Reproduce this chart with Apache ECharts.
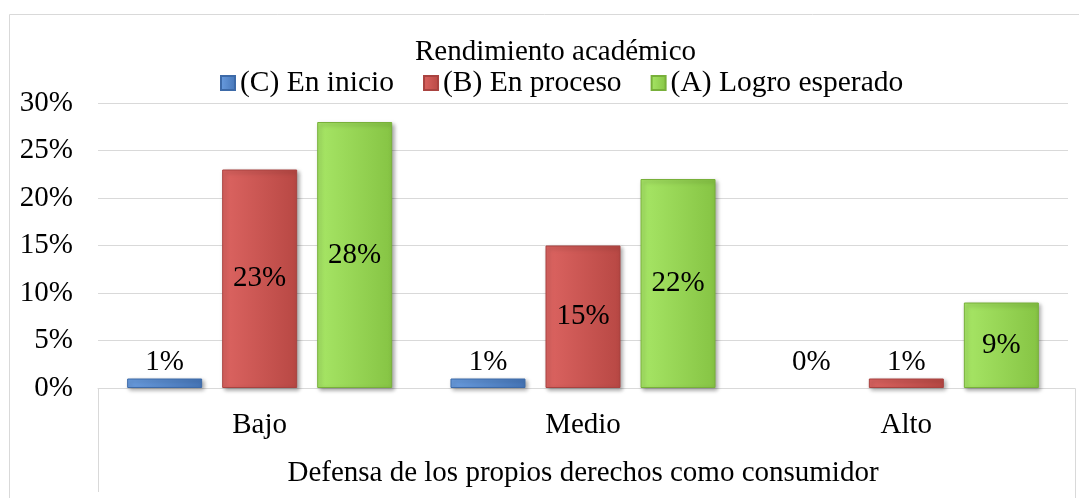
<!DOCTYPE html>
<html>
<head>
<meta charset="utf-8">
<script src="https://cdn.jsdelivr.net/npm/echarts@6/dist/echarts.min.js"></script>
<style>
    html, body { margin: 0; padding: 0; background: #fff; }
    #grafico { width: 1079px; height: 498px; }
</style>
</head>
<body>
<div id="grafico"></div>
<script>
const categorias = ['Bajo', 'Medio', 'Alto']
const enInicio = [1, 1, 0]
const enProceso = [23, 15, 1]
const logroEsperado = [28, 22, 9]
const ticks = [0, 5, 10, 15, 20, 25, 30]

const fonte = 'Liberation Serif'
const tam = 29

const degrade = (claro, escuro) => ({
    type: 'linear', x: 0, y: 0, x2: 1, y2: 0,
    colorStops: [{ offset: 0, color: claro }, { offset: 1, color: escuro }]
})

// small bars get the label just above the axis, big ones in the middle
const rotulo = (v) => v >= 5
    ? { position: 'inside' }
    : { position: 'insideBottom', offset: [0, -6] }

const serie = (nome, dados, claro, escuro, borda) => ({
    name: nome,
    type: 'bar',
    barWidth: 75,
    barGap: '26.7%',
    data: dados.map(v => {
        const item = { value: v, label: rotulo(v) }
        if (v === 0) item.itemStyle = { borderWidth: 0, shadowBlur: 0, shadowOffsetX: 0, shadowOffsetY: 0 }
        return item
    }),
    itemStyle: {
        color: degrade(claro, escuro),
        borderColor: borda,
        borderWidth: 1,
        shadowColor: 'rgba(0,0,0,0.35)',
        shadowBlur: 4,
        shadowOffsetX: 2,
        shadowOffsetY: 2
    },
    label: {
        show: true,
        formatter: p => p.value + '%',
        fontFamily: fonte,
        fontSize: tam,
        color: '#000'
    }
})

const dom = document.getElementById('grafico')
const myChart = echarts.init(dom, null, { renderer: 'canvas' })

const option = {
    animation: false,
    textStyle: { fontFamily: fonte },
    title: {
        text: 'Rendimiento académico',
        left: 410,
        top: 33,
        textStyle: { fontFamily: fonte, fontSize: tam, fontWeight: 'normal', color: '#000' }
    },
    legend: {
        top: 63,
        left: 215,
        icon: 'rect',
        itemWidth: 14,
        itemHeight: 14,
        itemGap: 29,
        textStyle: { fontFamily: fonte, fontSize: 29.5, color: '#000', padding: [0, 0, 0, 0] }
    },
    grid: { left: 98, right: 11, top: 103, bottom: 110, outerBoundsMode: 'none' },
    xAxis: {
        type: 'category',
        data: categorias,
        name: 'Defensa de los propios derechos como consumidor',
        nameLocation: 'middle',
        nameGap: 71,
        nameTextStyle: { fontFamily: fonte, fontSize: tam, color: '#000' },
        axisLine: { lineStyle: { color: '#d9d9d9', width: 1 } },
        axisTick: { show: false },
        axisLabel: { fontFamily: fonte, fontSize: tam, color: '#000', margin: 23 }
    },
    yAxis: {
        type: 'value',
        min: ticks[0],
        max: ticks[ticks.length - 1],
        interval: 5,
        axisLine: { show: false },
        axisTick: { show: false },
        splitLine: { lineStyle: { color: '#d9d9d9', width: 1 } },
        axisLabel: { fontFamily: fonte, fontSize: tam, color: '#000', margin: 25, formatter: '{value}%' }
    },
    graphic: [
        {
            type: 'rect',
            shape: { x: 9.5, y: 14.5, width: 1100, height: 520 },
            style: { fill: 'none', stroke: '#d9d9d9', lineWidth: 1 },
            silent: true
        },
        {
            type: 'polyline',
            shape: { points: [[98.5, 492], [98.5, 388.5], [1075.5, 388.5], [1075.5, 500]] },
            style: { fill: 'none', stroke: '#d9d9d9', lineWidth: 1 },
            silent: true
        }
    ],
    series: [
        serie('(C) En inicio', enInicio, '#6a9de0', '#4676b8', '#3d6aa8'),
        serie('(B) En proceso', enProceso, '#dc6461', '#b84844', '#a94340'),
        serie('(A) Logro esperado', logroEsperado, '#a7e666', '#86c444', '#78b03a')
    ]
}

myChart.setOption(option)
</script>
</body>
</html>
